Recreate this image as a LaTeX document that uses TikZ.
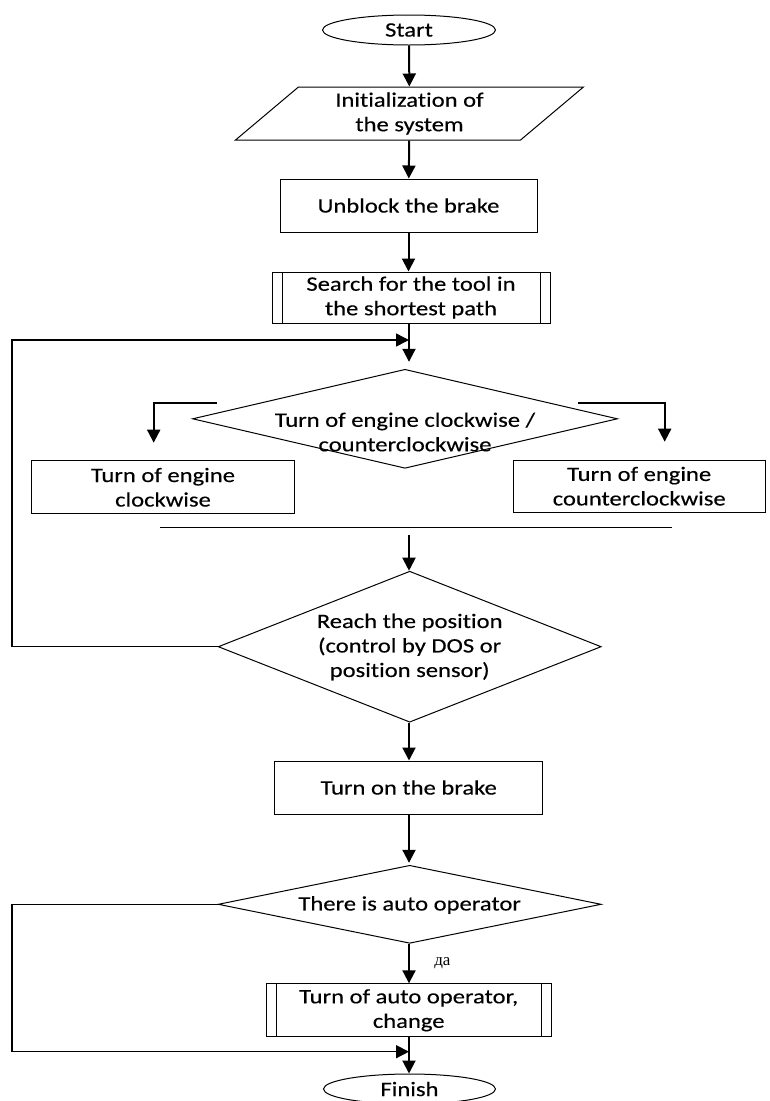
\documentclass[tikz,border=0pt]{standalone}
\usepackage{fontspec}
\setmainfont{Carlito}[FakeStretch=1.2,FakeBold=0.3,Ligatures=NoCommon]
\newfontfamily\cyrfont{Liberation Serif}
\usetikzlibrary{arrows.meta,shapes.geometric}
\tikzset{
  term/.style={ellipse,draw=black,line width=1pt,minimum width=173pt,minimum height=30pt,inner sep=0pt}, % start / finish
  io/.style={trapezium,trapezium left angle=45,trapezium right angle=135,trapezium stretches=true,
    draw=black,line width=1pt,minimum width=349pt,minimum height=53pt,inner sep=0pt,align=center},
  proc/.style={rectangle,draw=black,line width=1pt,inner sep=0pt,align=center},
  subproc/.style={proc,path picture={
      \draw[line width=1pt] ([xshift=10pt]path picture bounding box.north west) -- ([xshift=10pt]path picture bounding box.south west);
      \draw[line width=1pt] ([xshift=-10pt]path picture bounding box.north east) -- ([xshift=-10pt]path picture bounding box.south east);}},
  dec/.style={diamond,draw=black,line width=1pt,inner sep=0pt},   % text is set apart
  txt/.style={align=center,inner sep=0pt},
  arr/.style={-{Triangle[length=13pt,width=13pt]},line width=2pt},
  fb/.style={-{Triangle[length=13pt,width=13pt]},line width=1.5pt},
  joinline/.style={line width=1.5pt},
}
\begin{document}
\begin{tikzpicture}[x=1pt,y=-1pt,font=\fontsize{20.5}{24.5}\selectfont]
  \useasboundingbox (0,0) rectangle (769,1101);
  \node[term] (start) at (409,30) {Start};
  \node[io] (init) at (409.5,113.5) {Initialization of\\the system};
  \node[proc,minimum width=257pt,minimum height=53pt] (unblock) at (408.5,205.5) {Unblock the brake};
  \node[subproc,minimum width=278pt,minimum height=51pt] (search) at (411,297.5) {Search for the tool in\\the shortest path};

  \node[dec,minimum width=425pt,minimum height=99pt] (turn) at (405,418.8) {};
  \node[txt] (turntxt) at (405,432) {Turn of engine clockwise /\\counterclockwise};
  \node[proc,minimum width=263pt,minimum height=53pt] (cw) at (163,487.3) {Turn of engine\\clockwise};
  \node[proc,minimum width=252pt,minimum height=52pt] (ccw) at (639.2,486.2) {Turn of engine\\counterclockwise};

  \node[dec,minimum width=383pt,minimum height=151pt] (reach) at (409.7,646.7) {};
  \node[txt] (reachtxt) at (409.7,647) {Reach the position\\(control by DOS or\\position sensor)};
  \node[proc,minimum width=268pt,minimum height=53pt] (brake) at (408.7,787.5) {Turn on the brake};

  \node[dec,minimum width=383pt,minimum height=78pt] (auto) at (409.7,904.3) {};
  \node[txt] (autotxt) at (409.7,905) {There is auto operator};
  \node[subproc,minimum width=285pt,minimum height=53pt] (change) at (408.7,1010.3) {Turn of auto operator,\\change};
  \node[term,minimum width=172pt] (finish) at (409.5,1089) {Finish};

  \coordinate (loopL) at (12,0);
  \coordinate (loopin) at (409,340);
  \coordinate (loop2in) at (409,1051.7);
  \coordinate (cwfrom) at (217,402.7);
  \coordinate (cwto) at (153.7,442.7);
  \coordinate (ccwfrom) at (578.3,402.7);
  \coordinate (ccwto) at (664.7,441.7);
  \coordinate (joinL) at (160,527.3);
  \coordinate (joinR) at (672,527.3);
  \coordinate (joinout) at (409,535);

  \draw[arr] (start) -- (init);
  \draw[arr] (init) -- (unblock);
  \draw[arr] (unblock.south) -- (unblock.south |- search.north);
  \draw[arr,shorten >=7pt] (search.south -| loopin) -- (turn.north -| loopin);
  \draw[arr] (cwfrom) -| (cwto);
  \draw[arr] (ccwfrom) -| (ccwto);
  \draw[joinline] (joinL) -- (joinR);
  \draw[arr] (joinout) -- (joinout |- reach.north);
  \draw[fb] (reach.west) -- (reach.west -| loopL) |- (loopin);
  \draw[arr] (reach.south -| loopin) -- (loopin |- brake.north);
  \draw[arr,shorten >=2pt] (brake.south -| loopin) -- (loopin |- auto.north);
  \draw[arr] (auto.south -| loopin) -- (loopin |- change.north)
    node[midway,right=21pt,font=\cyrfont\fontsize{17}{18}\selectfont] (yes) {да};
  \draw[fb] (auto.west) -- (auto.west -| loopL) |- (loop2in);
  \draw[arr] (change.south -| loopin) -- (loopin |- finish.north);
\end{tikzpicture}
\end{document}
